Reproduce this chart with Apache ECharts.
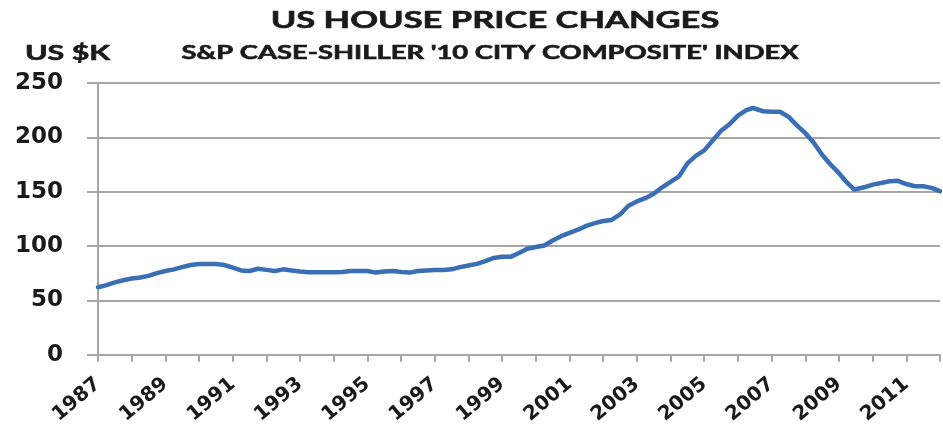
<!DOCTYPE html>
<html>
<head>
<meta charset="utf-8">
<script src="https://cdn.jsdelivr.net/npm/echarts@6/dist/echarts.min.js"></script>
<style>
  html, body { margin: 0; padding: 0; background: #fff; }
  #chart { width: 943px; height: 427px; }
</style>
</head>
<body>
<div id="chart"></div>
<script>
// readings, decimal year -> index level (US $K)
const years = [
  1987.0, 1987.25, 1987.5, 1987.75, 1988.0, 1988.25, 1988.5, 1988.75,
  1989.0, 1989.25, 1989.5, 1989.75, 1990.0, 1990.25, 1990.5, 1990.75,
  1991.0, 1991.25, 1991.5, 1991.75, 1992.0, 1992.25, 1992.5, 1992.75,
  1993.0, 1993.25, 1993.5, 1993.75, 1994.0, 1994.25, 1994.5, 1994.75,
  1995.0, 1995.25, 1995.5, 1995.75, 1996.0, 1996.25, 1996.5, 1996.75,
  1997.0, 1997.25, 1997.5, 1997.75, 1998.0, 1998.25, 1998.5, 1998.75,
  1999.0, 1999.25, 1999.5, 1999.75, 2000.0, 2000.25, 2000.5, 2000.75,
  2001.0, 2001.25, 2001.5, 2001.75, 2002.0, 2002.25, 2002.5, 2002.75,
  2003.0, 2003.25, 2003.5, 2003.75, 2004.0, 2004.25, 2004.5, 2004.75,
  2005.0, 2005.25, 2005.5, 2005.75, 2006.0, 2006.25, 2006.45, 2006.75,
  2007.0, 2007.25, 2007.5, 2007.75, 2008.0, 2008.25, 2008.5, 2008.75,
  2009.0, 2009.25, 2009.45, 2009.75, 2010.0, 2010.25, 2010.5, 2010.75,
  2011.0, 2011.25, 2011.5, 2011.75, 2012.0
]
const prices = [
  62, 64, 66.5, 68.5, 70, 71, 72.5, 75,
  77, 78.5, 80.5, 82.5, 83.5, 83.5, 83.5, 82.5,
  80, 77.5, 77, 79, 78, 77, 78.5, 77.5,
  76.5, 75.8, 75.8, 75.8, 75.8, 76, 77, 77,
  77, 75.5, 76.5, 77, 76, 75.5, 77, 77.5,
  78, 78, 78.5, 80.5, 82, 83.5, 86, 89,
  90, 90, 93.5, 97.5, 99, 100.5, 105, 109,
  112, 115, 118.5, 121, 123, 124, 129, 137,
  141, 144, 148, 154, 159, 164, 176, 183,
  188, 197, 206, 212, 220, 225, 227, 224,
  223.5, 223.5, 219, 211, 204, 195, 184, 175,
  167, 158, 152, 154, 156.5, 158, 159.5, 160,
  157, 155, 155, 153.5, 150.5
]
const yTicks = [0, 50, 100, 150, 200, 250]
const titleText = 'US HOUSE PRICE CHANGES'
const subtitleText = "S&P CASE-SHILLER '10 CITY COMPOSITE' INDEX"
const unitText = 'US $K'

const chart = echarts.init(document.getElementById('chart'))
const axisGrey = '#a6a6a6'
const ink = '#1a1a1a'

// the source image is stretched sideways, so the heading texts get a scaleX
function heading (text, x, y, size, sx, align) {
  return {
    type: 'text', x: x, y: y, scaleX: sx,
    style: {
      text: text, fill: ink,
      font: 'bold ' + size + 'px Lato',
      textAlign: align, textVerticalAlign: 'middle',
      stroke: ink, lineWidth: 0.6
    }
  }
}

const option = {
  animation: false,
  graphic: [
    heading(titleText, 495, 21, 23, 1.5, 'center'),
    heading(subtitleText, 490, 53, 18.5, 1.48, 'center'),
    heading(unitText, 25, 53, 21, 1.45, 'left')
  ],
  grid: { left: 98, right: 3, top: 83, bottom: 72 },
  xAxis: {
    type: 'value',
    min: 1987, max: 2012, interval: 1,
    axisLine: { show: true, lineStyle: { color: axisGrey, width: 2 } },
    axisTick: { show: true, length: 7, lineStyle: { color: axisGrey, width: 2 } },
    splitLine: { show: false },
    axisLabel: {
      rotate: 40, margin: 27,
      fontFamily: 'DejaVu Sans', fontWeight: 'bold', fontSize: 20, color: ink,
      formatter: v => (v % 2 === 1 && v < 2012) ? String(v) : ''
    }
  },
  yAxis: {
    type: 'value',
    min: yTicks[0], max: yTicks[yTicks.length - 1], interval: 50,
    axisLine: { show: true, lineStyle: { color: axisGrey, width: 2 } },
    axisTick: { show: true, inside: false, length: 11, lineStyle: { color: axisGrey, width: 2 } },
    splitLine: { show: true, lineStyle: { color: axisGrey, width: 2 } },
    axisLabel: {
      margin: 35,
      fontFamily: 'DejaVu Sans', fontWeight: 'bold', fontSize: 23, color: ink
    }
  },
  series: [{
    type: 'line',
    data: years.map((y, i) => [y, prices[i]]),
    showSymbol: false,
    smooth: false,
    lineStyle: { color: '#3a6fb5', width: 4.5, cap: 'round', join: 'round' }
  }]
}
chart.setOption(option)
</script>
</body>
</html>
